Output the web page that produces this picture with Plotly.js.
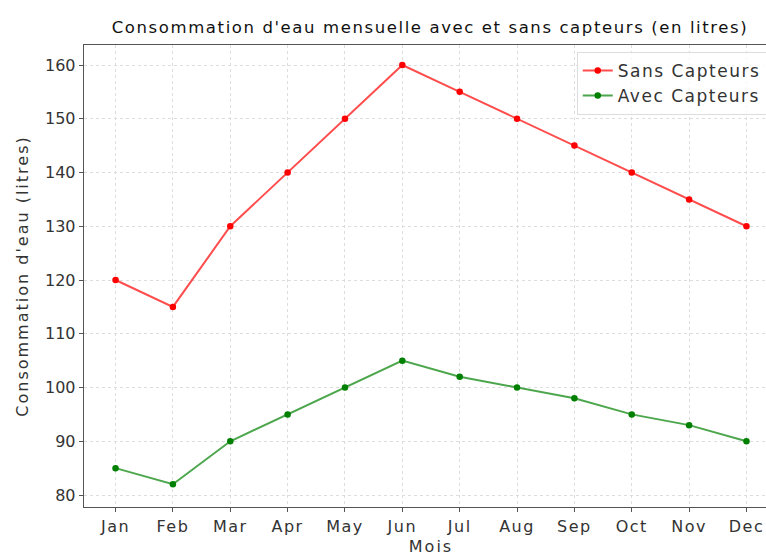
<!DOCTYPE html>
<html><head><meta charset="utf-8">
<script src="https://cdn.plot.ly/plotly-3.0.1.min.js"></script>
<style>
html,body{margin:0;padding:0;overflow:hidden;background:#fff}
.gtitle {letter-spacing: 1.6px;}
.xtick text {letter-spacing: 1.5px;}
.legendtext {letter-spacing: 1.5px;}
.xtitle, .ytitle {letter-spacing: 2px;}
</style>
</head><body>
<div id="chart"></div>
<script>
const months = ['Jan','Feb','Mar','Apr','May','Jun','Jul','Aug','Sep','Oct','Nov','Dec'];
const sansCapteurs = [120,115,130,140,150,160,155,150,145,140,135,130];
const avecCapteurs = [85,82,90,95,100,105,102,100,98,95,93,90];
const yTicks = [80,90,100,110,120,130,140,150,160];

const font = '"DejaVu Sans", sans-serif';
const traces = [
  {x: months, y: sansCapteurs, name: 'Sans Capteurs', mode: 'lines+markers',
   line: {color: 'rgba(255,0,0,0.7)', width: 2}, marker: {color: 'red', size: 6.5}},
  {x: months, y: avecCapteurs, name: 'Avec Capteurs', mode: 'lines+markers',
   line: {color: 'rgba(0,128,0,0.7)', width: 2}, marker: {color: 'green', size: 6.5}}
];
const layout = {
  width: 792, height: 556,
  margin: {l: 84, r: 14, t: 45, b: 49},
  paper_bgcolor: '#fff', plot_bgcolor: '#fff',
  font: {family: font, size: 15, color: '#333'},
  title: {text: "Consommation d'eau mensuelle avec et sans capteurs (en litres)",
    font: {family: font, size: 16.5, color: '#111'}, x: 0.543, xanchor: 'center', y: 0.951, yanchor: 'middle'},
  xaxis: {range: [-0.55, 11.55], type: 'category', showline: true, mirror: true, linecolor: '#555', linewidth: 1.3,
    ticks: 'outside', ticklen: 4, tickcolor: '#555', showgrid: true, gridcolor: '#ddd', griddash: 'dot',
    tickfont: {size: 16, color: '#333'}, zeroline: false,
    title: {text: 'Mois', font: {size: 16, color: '#333'}, standoff: 10}},
  yaxis: {range: [77.77, 163.72], tickvals: yTicks, showline: true, mirror: false, linecolor: '#555', linewidth: 1.3,
    ticks: 'outside', ticklen: 4, tickcolor: '#555', showgrid: true, gridcolor: '#ddd', griddash: 'dot',
    tickfont: {size: 16, color: '#333'}, zeroline: false,
    title: {text: "Consommation d'eau (litres)", font: {size: 16, color: '#333'}, standoff: 12}},
  legend: {x: 0.71, y: 0.985, xanchor: 'left', yanchor: 'top', bgcolor: 'rgba(255,255,255,0.8)',
    bordercolor: '#ddd', borderwidth: 1, font: {size: 17, color: '#333'}}
};
Plotly.newPlot('chart', traces, layout, {displayModeBar: false, staticPlot: true});
</script>
</body></html>
